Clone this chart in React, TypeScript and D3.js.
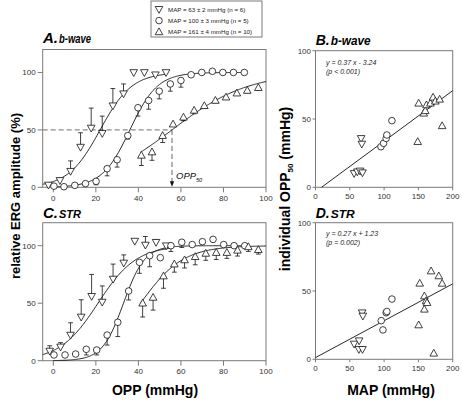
import React from "react";
import * as d3 from "d3";

// ---------- Data: panel A (b-wave), relative amplitude vs OPP ----------
const aDownX = [-2.3, 3.1, 8.1, 12.8, 17.8, 23, 28, 33, 37.8, 42.8, 48, 53];
const aDownY = [2, 6, 14, 35, 51.6, 47, 71, 81.5, 100, 100, 98, 100];
const aDownErr = [0, 2, 9, 12.5, 17.4, 15, 15, 8.5, 0, 1, 0, 0];
const aCircX = [0.3, 5, 10.1, 15.1, 20.1, 25.3, 30, 35, 39.8, 44.8, 49.8, 55, 60, 64.8, 69.8, 74.8, 79.7, 84.7, 89.8];
const aCircY = [1, 0.5, 1.7, 3.2, 5.2, 16.2, 24, 45, 69.3, 75.6, 83.7, 90, 93, 98, 100, 101, 100, 100, 100];
const aCircErr = [0, 0, 0, 0, 3, 6.2, 6.4, 3, 7.3, 7.6, 6.7, 6.3, 5.8, 0, 0, 0, 0, 0, 0];
const aUpX = [41.4, 46.4, 51.4, 56.3, 61.2, 66.2, 71, 76.2, 81.2, 86.3, 91.2, 96.4];
const aUpY = [27.8, 30.7, 45, 55, 61, 67, 71, 75.6, 78.5, 82, 84.3, 86.7];
const aUpErr = [8.8, 7.2, 6, 2, 3, 3, 2, 2, 2, 2, 2, 2];

// ---------- Data: panel C (STR) ----------
const cDownX = [-1.7, 3.4, 8.1, 13.1, 18, 23, 28.1, 33.1, 38.3, 43.3, 48.3, 53.1];
const cDownY = [8.4, 12, 22.3, 38, 56, 51, 71, 85, 104, 100.6, 103, 100];
const cDownErr = [4.6, 3.7, 10.7, 15, 19, 14, 13, 7, 0, 7.4, 2, 0];
const cCircX = [0.3, 5.5, 10.5, 15.5, 20.4, 25.3, 30.3, 35.4, 40.5, 45.3, 50.3, 55.3, 60.4, 65.3, 70.1, 75.1, 80.1, 85, 90];
const cCircY = [5, 5, 5.8, 9.9, 9.3, 22.3, 33.4, 60.6, 85.5, 91.3, 89.6, 100, 103, 101, 103.5, 105.5, 101, 100, 100];
const cCircErr = [0, 0, 0, 4.9, 4.3, 8.7, 12.4, 7.8, 9.5, 9.6, 0, 5, 4.5, 0, 0, 0, 0, 0, 0];
const cUpX = [42, 46.9, 51.8, 56.9, 61.7, 66.7, 71.7, 76.6, 81.6, 86.6, 91.7, 96.4];
const cUpY = [50, 55, 73.6, 84, 87.6, 90.4, 93.3, 94, 94, 96, 99, 96.5];
const cUpErr = [12, 11, 10.6, 7, 7, 7, 6, 6, 5, 5, 4, 3.8];

// Sigmoid fit parameters per group (63, 100, 161 mmHg)
const aFitX50 = [22, 36, 55.8];
const aFitSlope = [7.5, 6.5, 18];
const aFitFrom = [-5, -1, 41];
const aFitTo = [53, 90, 100];
const cFitX50 = [21, 33, 41];
const cFitSlope = [9, 5, 10];
const cFitFrom = [-5, 0, 41];
const cFitTo = [55, 90, 100];

// ---------- Data: panel B (b-wave OPP50 vs MAP) ----------
const bDownX = [56.3, 61, 65, 68.5, 66.5, 67.5];
const bDownY = [10.2, 11.4, 12, 10.7, 35.8, 31.7];
const bCircX = [95.4, 99.2, 103, 104, 111.4];
const bCircY = [29.7, 32.2, 35.8, 38.3, 48.8];
const bUpX = [150.4, 149, 157.8, 160, 161.7, 167.5, 171.4, 174.7, 181, 184.6];
const bUpY = [61.5, 33.4, 54.2, 56, 60.3, 61.5, 65.9, 63, 64.4, 45];

// ---------- Data: panel D (STR OPP50 vs MAP) ----------
const dDownX = [56.3, 63.6, 63.2, 68.5, 68, 69];
const dDownY = [11.2, 13.6, 7.3, 7.3, 34.1, 31.7];
const dCircX = [95.8, 98.3, 103, 104, 111.4];
const dCircY = [28.3, 21.5, 34.1, 35, 44.1];
const dUpX = [151.9, 150.4, 158.7, 158.7, 161.2, 162.6, 168.5, 172.4, 179.7, 184.6];
const dUpY = [55.6, 25.1, 46.3, 36.6, 42.7, 41.4, 64.6, 4.4, 61, 55.6];

// Regression lines (slope, intercept)
const bSlope = 0.37, bIntercept = -3.24;
const dSlope = 0.27, dIntercept = 1.23;

// Ticks
const oppTicks = [0, 20, 40, 60, 80, 100];
const ampTicks = [0, 50, 100];
const mapTicks = [0, 50, 100, 150, 200];
const opp50Ticks = [0, 50, 100];

const legendLabels = [
  "MAP = 63 ± 2 mmHg  (n = 6)",
  "MAP = 100 ± 3 mmHg (n = 5)",
  "MAP = 161 ± 4 mmHg (n = 10)",
];

const FONT = "'Liberation Sans', Arial, sans-serif";
const AXIS = "#7a7a7a";

type Shape = "down" | "circle" | "up";

function Marker({ x, y, shape }: { x: number; y: number; shape: Shape }) {
  const common = { fill: "white", stroke: "#111", strokeWidth: 0.8 };
  if (shape === "circle") return <circle cx={x} cy={y} r={3.3} {...common} />;
  const w = 3.8, h = 3.4;
  const pts =
    shape === "down"
      ? `${x - w},${y - h + 0.6} ${x + w},${y - h + 0.6} ${x},${y + h + 0.6}`
      : `${x - w},${y + h - 0.6} ${x + w},${y + h - 0.6} ${x},${y - h - 0.6}`;
  return <polygon points={pts} {...common} />;
}

function Frame({ x, y, xTicks, yTicks, tickLen, gap }: any) {
  const [x0, x1] = x.range();
  const [y0, y1] = y.range();
  return (
    <g>
      <rect x={x0} y={y1} width={x1 - x0} height={y0 - y1} fill="none" stroke={AXIS} strokeWidth={1} />
      {xTicks.map((t: number) => (
        <g key={"x" + t}>
          <line x1={x(t)} x2={x(t)} y1={y0} y2={y0 + tickLen} stroke={AXIS} />
          <text x={x(t)} y={y0 + tickLen + 8.5} textAnchor="middle" fontSize={8} fontFamily={FONT} fill="#333">
            {t}
          </text>
        </g>
      ))}
      {yTicks.map((t: number) => (
        <g key={"y" + t}>
          <line x1={x0 - tickLen} x2={x0} y1={y(t)} y2={y(t)} stroke={AXIS} />
          <text x={x0 - tickLen - gap} y={y(t) + 3} textAnchor="end" fontSize={8} fontFamily={FONT} fill="#333">
            {t}
          </text>
        </g>
      ))}
    </g>
  );
}

function Series({ xs, ys, errs, dir, shape, x, y }: any) {
  return (
    <g>
      {errs &&
        xs.map((v: number, i: number) =>
          errs[i] > 0 ? (
            <g key={"e" + i} stroke="#111" strokeWidth={0.8}>
              <line x1={x(v)} x2={x(v)} y1={y(ys[i])} y2={y(ys[i] + dir * errs[i])} />
              <line x1={x(v) - 2.4} x2={x(v) + 2.4} y1={y(ys[i] + dir * errs[i])} y2={y(ys[i] + dir * errs[i])} />
            </g>
          ) : null
        )}
      {xs.map((v: number, i: number) => (
        <Marker key={i} x={x(v)} y={y(ys[i])} shape={shape} />
      ))}
    </g>
  );
}

function Fit({ x50, s, from, to, x, y }: any) {
  const pts = d3.range(from, to + 0.001, 0.5).map((v) => [v, 100 / (1 + Math.exp(-(v - x50) / s))]);
  const line = d3.line<number[]>().x((d) => x(d[0])).y((d) => y(d[1])).curve(d3.curveLinear);
  return <path d={line(pts) || ""} fill="none" stroke="#111" strokeWidth={0.9} />;
}

function Title({ x, y, letter, word, wordSize, letterSize, wordLen }: any) {
  return (
    <g fontFamily={FONT} fontWeight="bold" fontStyle="italic" fill="#000">
      <text x={x} y={y} fontSize={letterSize}>{letter}</text>
      <text x={x + letterSize * 1.0 + 1} y={y} fontSize={wordSize} textLength={wordLen} lengthAdjust="spacingAndGlyphs">
        {word}
      </text>
    </g>
  );
}

export default function App() {
  const xA = d3.scaleLinear().domain([-5, 100]).range([42.7, 266]);
  const yA = d3.scaleLinear().domain([0, 120]).range([187.3, 49.5]);
  const xC = xA;
  const yC = d3.scaleLinear().domain([0, 120]).range([360.7, 222.7]);
  const xB = d3.scaleLinear().domain([0, 200]).range([315.5, 452.7]);
  const yB = d3.scaleLinear().domain([0, 100]).range([187.3, 50.7]);
  const xD = xB;
  const yD = d3.scaleLinear().domain([0, 100]).range([359.3, 222.7]);

  const shapes: Shape[] = ["down", "circle", "up"];
  const dashX = aFitX50[2];

  return (
    <svg width={462} height={400} style={{ position: "absolute", left: 0, top: 0, background: "white" }}>
      {/* Legend */}
      <rect x={151} y={1} width={111} height={36} fill="white" stroke={AXIS} strokeWidth={1} />
      {legendLabels.map((l, i) => (
        <g key={l}>
          <Marker x={159} y={9.3 + i * 11.3} shape={shapes[i]} />
          <text x={168} y={11.5 + i * 11.3} fontSize={6.2} fontFamily={FONT} fill="#222">
            {l}
          </text>
        </g>
      ))}

      {/* Panel A */}
      <Title x={43} y={43} letter="A." word="b-wave" letterSize={15} wordSize={12} wordLen={32} />
      <Frame x={xA} y={yA} xTicks={oppTicks} yTicks={ampTicks} tickLen={5} gap={2} />
      <line x1={xA(-5)} x2={xA(dashX)} y1={yA(50)} y2={yA(50)} stroke="#8a8a8a" strokeWidth={1.3} strokeDasharray="5,3" />
      <line x1={xA(dashX)} x2={xA(dashX)} y1={yA(50)} y2={yA(3)} stroke="#8a8a8a" strokeWidth={1.3} strokeDasharray="5,3" />
      <polygon
        points={`${xA(dashX) - 2.2},${yA(0) - 6} ${xA(dashX) + 2.2},${yA(0) - 6} ${xA(dashX)},${yA(0) - 0.5}`}
        fill="#111"
      />
      <text x={xA(dashX) + 4} y={yA(0) - 8} fontSize={9.5} fontFamily={FONT} fontStyle="italic" fill="#111">
        OPP<tspan fontSize={5.5} dy={2.5}>50</tspan>
      </text>
      {aFitX50.map((v, i) => (
        <Fit key={i} x50={v} s={aFitSlope[i]} from={aFitFrom[i]} to={aFitTo[i]} x={xA} y={yA} />
      ))}
      <Series xs={aDownX} ys={aDownY} errs={aDownErr} dir={1} shape="down" x={xA} y={yA} />
      <Series xs={aCircX} ys={aCircY} errs={aCircErr} dir={-1} shape="circle" x={xA} y={yA} />
      <Series xs={aUpX} ys={aUpY} errs={aUpErr} dir={-1} shape="up" x={xA} y={yA} />

      {/* Panel C */}
      <Title x={43} y={218} letter="C." word="STR" letterSize={15} wordSize={10.5} wordLen={22} />
      <Frame x={xC} y={yC} xTicks={oppTicks} yTicks={ampTicks} tickLen={5} gap={2} />
      {cFitX50.map((v, i) => (
        <Fit key={i} x50={v} s={cFitSlope[i]} from={cFitFrom[i]} to={cFitTo[i]} x={xC} y={yC} />
      ))}
      <Series xs={cDownX} ys={cDownY} errs={cDownErr} dir={1} shape="down" x={xC} y={yC} />
      <Series xs={cCircX} ys={cCircY} errs={cCircErr} dir={-1} shape="circle" x={xC} y={yC} />
      <Series xs={cUpX} ys={cUpY} errs={cUpErr} dir={-1} shape="up" x={xC} y={yC} />

      {/* Panel B */}
      <Title x={315.7} y={45} letter="B." word="b-wave" letterSize={14} wordSize={12} wordLen={40} />
      <Frame x={xB} y={yB} xTicks={mapTicks} yTicks={opp50Ticks} tickLen={3} gap={1.5} />
      <line
        x1={xB(-bIntercept / bSlope)} x2={xB(200)}
        y1={yB(0)} y2={yB(bSlope * 200 + bIntercept)}
        stroke="#111" strokeWidth={0.9}
      />
      <g fontSize={7} fontFamily={FONT} fontStyle="italic" fill="#222">
        <text x={326} y={64.5}>y = 0.37 x - 3.24</text>
        <text x={326} y={73.5}>(p &lt; 0.001)</text>
      </g>
      <Series xs={bDownX} ys={bDownY} shape="down" x={xB} y={yB} />
      <Series xs={bCircX} ys={bCircY} shape="circle" x={xB} y={yB} />
      <Series xs={bUpX} ys={bUpY} shape="up" x={xB} y={yB} />

      {/* Panel D */}
      <Title x={315.7} y={218} letter="D." word="STR" letterSize={14} wordSize={10.5} wordLen={24} />
      <Frame x={xD} y={yD} xTicks={mapTicks} yTicks={opp50Ticks} tickLen={3} gap={1.5} />
      <line
        x1={xD(0)} x2={xD(200)}
        y1={yD(dIntercept)} y2={yD(dSlope * 200 + dIntercept)}
        stroke="#111" strokeWidth={0.9}
      />
      <g fontSize={7} fontFamily={FONT} fontStyle="italic" fill="#222">
        <text x={326} y={236}>y = 0.27 x + 1.23</text>
        <text x={326} y={245}>(p = 0.002)</text>
      </g>
      <Series xs={dDownX} ys={dDownY} shape="down" x={xD} y={yD} />
      <Series xs={dCircX} ys={dCircY} shape="circle" x={xD} y={yD} />
      <Series xs={dUpX} ys={dUpY} shape="up" x={xD} y={yD} />

      {/* Axis titles */}
      <g fontFamily={FONT} fontWeight="bold" fill="#000">
        <text x={155} y={395} textAnchor="middle" fontSize={14}>OPP (mmHg)</text>
        <text x={391} y={395} textAnchor="middle" fontSize={14}>MAP (mmHg)</text>
        <text transform="translate(20,196) rotate(-90)" textAnchor="middle" fontSize={13}>
          relative ERG amplitude (%)
        </text>
        <text transform="translate(290,189) rotate(-90)" textAnchor="middle" fontSize={14}>
          individual OPP<tspan fontSize={8} dy={3}>50</tspan>
          <tspan dy={-3}> (mmHg)</tspan>
        </text>
      </g>
    </svg>
  );
}
